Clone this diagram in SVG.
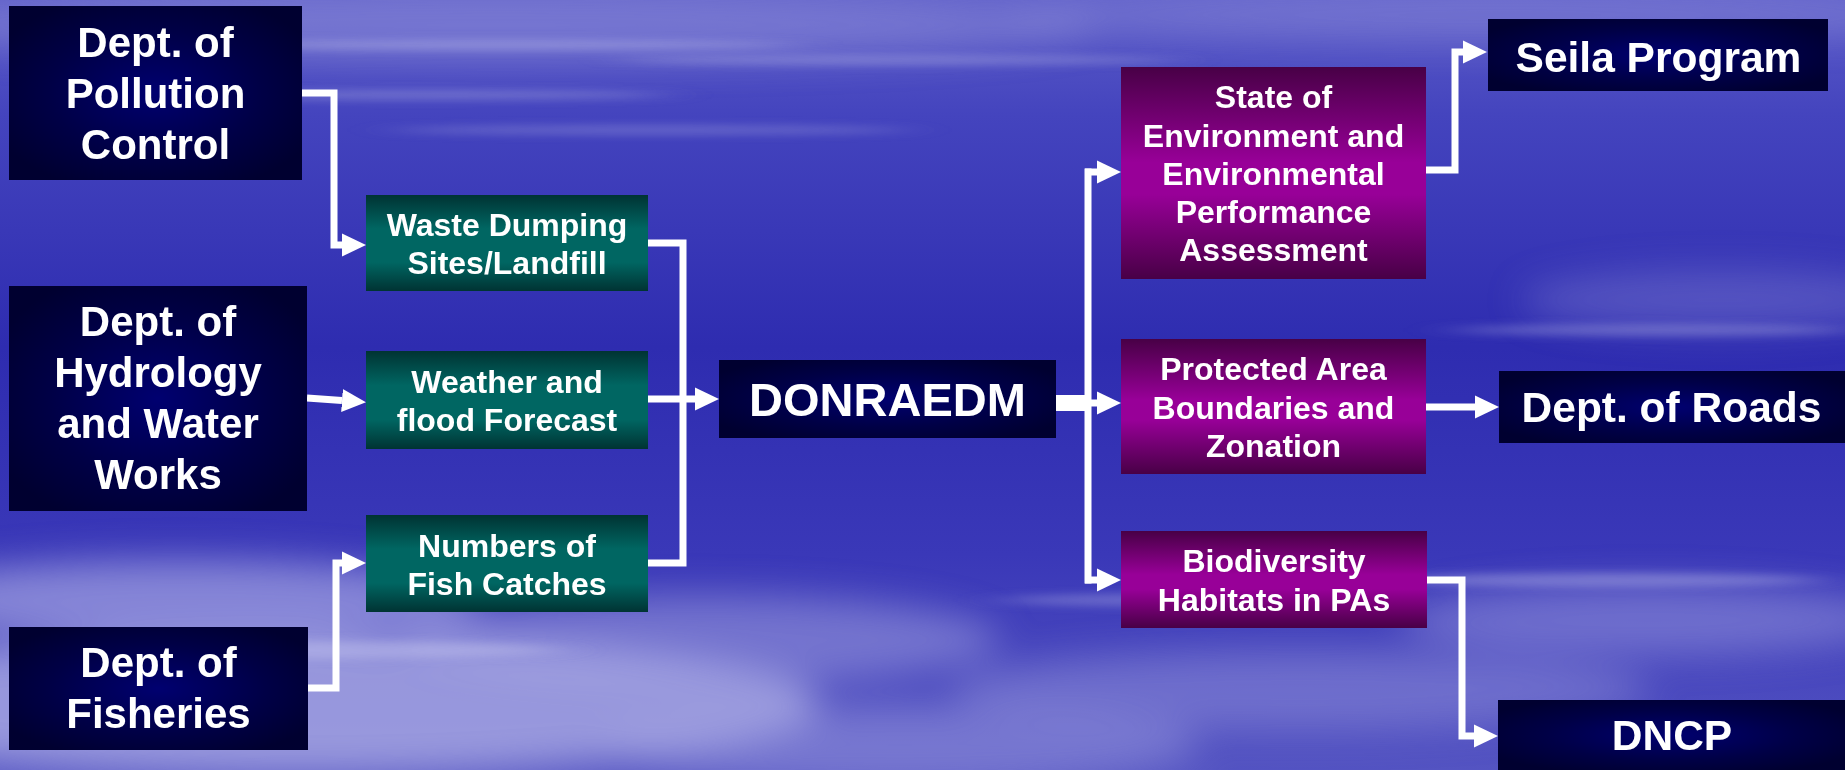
<svg xmlns="http://www.w3.org/2000/svg" width="1845" height="770" viewBox="0 0 1845 770">
<defs>
<linearGradient id="bg" x1="0" y1="0" x2="0" y2="1">
<stop offset="0" stop-color="#5c5cc8"/>
<stop offset="0.15" stop-color="#4444be"/>
<stop offset="0.45" stop-color="#2e2cb0"/>
<stop offset="0.72" stop-color="#3a38b8"/>
<stop offset="1" stop-color="#5454c2"/>
</linearGradient>
<radialGradient id="navy" cx="0.5" cy="0.5" r="0.6">
<stop offset="0" stop-color="#000070"/>
<stop offset="0.6" stop-color="#000046"/>
<stop offset="1" stop-color="#000030"/>
</radialGradient>
<linearGradient id="green" x1="0" y1="0" x2="0" y2="1">
<stop offset="0" stop-color="#003333"/>
<stop offset="0.35" stop-color="#006662"/>
<stop offset="0.7" stop-color="#006662"/>
<stop offset="1" stop-color="#003333"/>
</linearGradient>
<linearGradient id="purple" x1="0" y1="0" x2="0" y2="1">
<stop offset="0" stop-color="#480046"/>
<stop offset="0.45" stop-color="#980098"/>
<stop offset="0.6" stop-color="#980098"/>
<stop offset="1" stop-color="#480046"/>
</linearGradient>
<filter id="blur" x="-30%" y="-100%" width="160%" height="300%"><feGaussianBlur stdDeviation="18"/></filter>
<filter id="blurs" x="-30%" y="-300%" width="160%" height="700%"><feGaussianBlur stdDeviation="25 4"/></filter>
<marker id="ah" markerUnits="userSpaceOnUse" markerWidth="24" markerHeight="24" refX="0" refY="12" orient="auto">
<path d="M0,0.5 L24,12 L0,23.5 z" fill="#ffffff"/>
</marker>
<style>
.navy{fill:url(#navy)}
.green{fill:url(#green)}
.purple{fill:url(#purple)}
text{font-family:"Liberation Sans",Arial,Helvetica,sans-serif;font-weight:bold;fill:#ffffff;text-anchor:middle}
.big{font-size:42px}
.mid{font-size:32px}
.pur{font-size:32px}
.dn{font-size:47px}
.rt{font-size:42.5px}
.ln{fill:none;stroke:#ffffff;stroke-width:7;stroke-linejoin:miter;stroke-linecap:butt}
</style>
</defs>
<rect width="1845" height="770" fill="url(#bg)"/>
<g id="clouds">
<g filter="url(#blur)" fill="#a4a4e2">
<ellipse cx="300" cy="705" rx="520" ry="70" opacity="0.85"/>
<ellipse cx="180" cy="600" rx="300" ry="40" opacity="0.7"/>
<ellipse cx="700" cy="640" rx="300" ry="45" opacity="0.5"/>
<ellipse cx="1300" cy="690" rx="350" ry="40" opacity="0.4"/>
<ellipse cx="1650" cy="620" rx="250" ry="35" opacity="0.45"/>
<ellipse cx="1720" cy="300" rx="200" ry="30" opacity="0.3"/>
<ellipse cx="900" cy="745" rx="300" ry="40" opacity="0.45"/>
<ellipse cx="500" cy="25" rx="600" ry="35" opacity="0.4"/>
<ellipse cx="1500" cy="15" rx="500" ry="25" opacity="0.35"/>
</g>
<g filter="url(#blurs)" fill="#c8c8f0">
<ellipse cx="500" cy="45" rx="300" ry="5" opacity="0.35"/>
<ellipse cx="420" cy="95" rx="250" ry="5" opacity="0.3"/>
<ellipse cx="650" cy="130" rx="260" ry="5" opacity="0.25"/>
<ellipse cx="900" cy="60" rx="280" ry="5" opacity="0.3"/>
<ellipse cx="1650" cy="330" rx="200" ry="6" opacity="0.3"/>
<ellipse cx="1600" cy="580" rx="220" ry="7" opacity="0.35"/>
<ellipse cx="300" cy="650" rx="260" ry="9" opacity="0.4"/>
<ellipse cx="1200" cy="600" rx="200" ry="7" opacity="0.3"/>
</g>
</g>
<g id="connectors">
<path class="ln" d="M302,93 H334 V245 H342" marker-end="url(#ah)"/>
<path class="ln" d="M307,398 L342,400.5" marker-end="url(#ah)"/>
<path class="ln" d="M308,688 H336 V563 H342" marker-end="url(#ah)"/>
<path class="ln" d="M648,243 H683 V563 H648"/>
<path class="ln" d="M648,399 H695" marker-end="url(#ah)"/>
<rect x="1056" y="395" width="32" height="16" fill="#ffffff"/>
<path class="ln" d="M1088,168.5 V583.5"/>
<path class="ln" d="M1085,172 H1097" marker-end="url(#ah)"/>
<path class="ln" d="M1085,403 H1097" marker-end="url(#ah)"/>
<path class="ln" d="M1085,580 H1097" marker-end="url(#ah)"/>
<path class="ln" d="M1426,170 H1455 V52 H1463" marker-end="url(#ah)"/>
<path class="ln" d="M1426,407 H1475" marker-end="url(#ah)"/>
<path class="ln" d="M1427,580 H1462 V736 H1474" marker-end="url(#ah)"/>
</g>
<g id="pollution">
<rect class="navy" x="9" y="6" width="293" height="174"/>
<text class="big" x="155.5" y="57">Dept. of</text>
<text class="big" x="155.5" y="108">Pollution</text>
<text class="big" x="155.5" y="159">Control</text>
</g>
<g id="hydrology">
<rect class="navy" x="9" y="286" width="298" height="225"/>
<text class="big" x="158" y="336">Dept. of</text>
<text class="big" x="158" y="387">Hydrology</text>
<text class="big" x="158" y="438">and Water</text>
<text class="big" x="158" y="489">Works</text>
</g>
<g id="fisheries">
<rect class="navy" x="9" y="627" width="299" height="123"/>
<text class="big" x="158.5" y="677">Dept. of</text>
<text class="big" x="158.5" y="728">Fisheries</text>
</g>
<g id="waste">
<rect class="green" x="366" y="195" width="282" height="96"/>
<text class="mid" x="507" y="236">Waste Dumping</text>
<text class="mid" x="507" y="274">Sites/Landfill</text>
</g>
<g id="weather">
<rect class="green" x="366" y="351" width="282" height="98"/>
<text class="mid" x="507" y="393">Weather and</text>
<text class="mid" x="507" y="431">flood Forecast</text>
</g>
<g id="fish">
<rect class="green" x="366" y="515" width="282" height="97"/>
<text class="mid" x="507" y="556.5">Numbers of</text>
<text class="mid" x="507" y="594.5">Fish Catches</text>
</g>
<g id="donraedm">
<rect class="navy" x="719" y="360" width="337" height="78"/>
<text class="dn" x="887.5" y="416">DONRAEDM</text>
</g>
<g id="state">
<rect class="purple" x="1121" y="67" width="305" height="212"/>
<text class="pur" x="1273.5" y="108">State of</text>
<text class="pur" x="1273.5" y="147">Environment and</text>
<text class="pur" x="1273.5" y="185">Environmental</text>
<text class="pur" x="1273.5" y="223">Performance</text>
<text class="pur" x="1273.5" y="261">Assessment</text>
</g>
<g id="protected">
<rect class="purple" x="1121" y="339" width="305" height="135"/>
<text class="pur" x="1273.5" y="380">Protected Area</text>
<text class="pur" x="1273.5" y="418.5">Boundaries and</text>
<text class="pur" x="1273.5" y="457">Zonation</text>
</g>
<g id="biodiversity">
<rect class="purple" x="1121" y="531" width="306" height="97"/>
<text class="pur" x="1274" y="572">Biodiversity</text>
<text class="pur" x="1274" y="610.5">Habitats in PAs</text>
</g>
<g id="seila">
<rect class="navy" x="1488" y="19" width="340" height="72"/>
<text class="rt" x="1658.5" y="71.5">Seila Program</text>
</g>
<g id="roads">
<rect class="navy" x="1499" y="371" width="346" height="72"/>
<text class="rt" x="1671.5" y="422">Dept. of Roads</text>
</g>
<g id="dncp">
<rect class="navy" x="1498" y="700" width="347" height="70"/>
<text class="rt" x="1672" y="750">DNCP</text>
</g>
</svg>
